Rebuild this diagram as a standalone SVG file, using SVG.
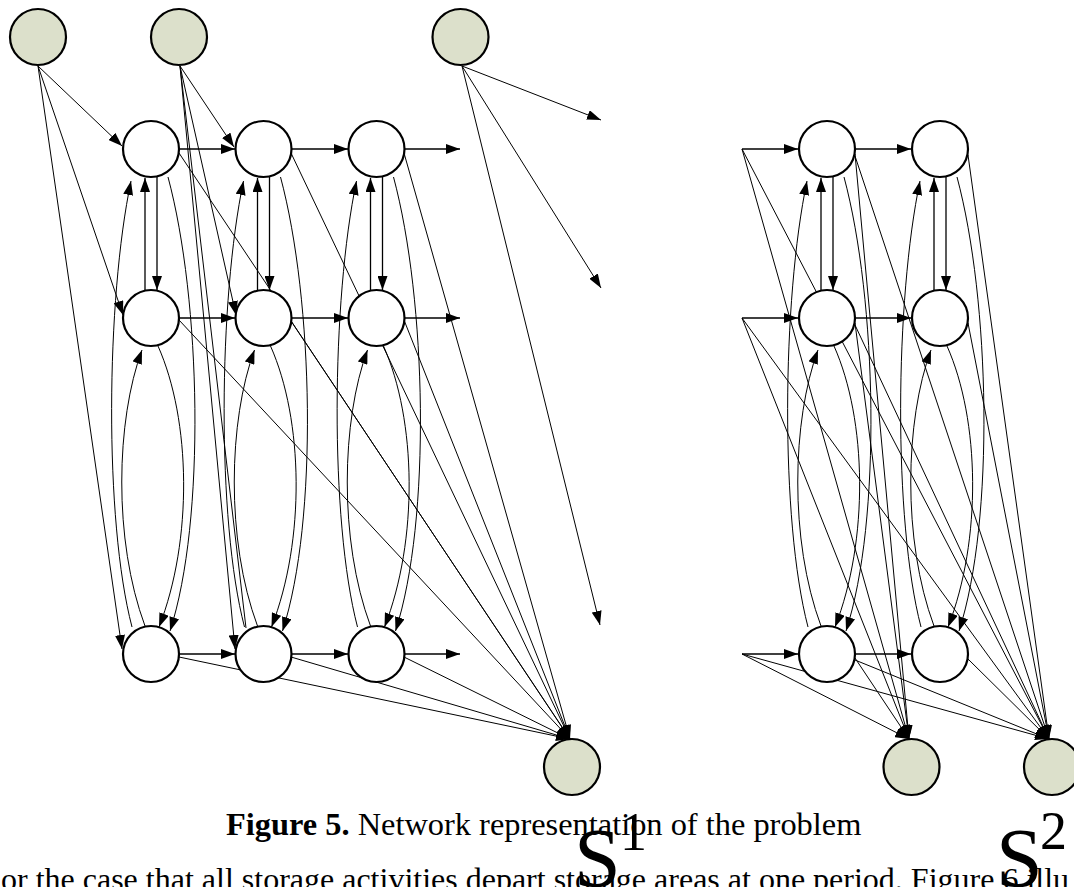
<svg xmlns="http://www.w3.org/2000/svg" width="1074" height="887" viewBox="0 0 1074 887">
<style>
.n{fill:#ffffff;stroke:#000;stroke-width:2.2}
.g{fill:#dce0cb;stroke:#000;stroke-width:2.2}
.e{fill:none;stroke:#000;stroke-width:1}
.a{fill:none;stroke:#000;stroke-width:1;marker-end:url(#ah)}
.s{fill:none;stroke:#000;stroke-width:1.3;marker-end:url(#ah)}
.t{font-family:"Liberation Serif","Times New Roman",serif;fill:#000}
</style>
<defs>
<marker id="ah" markerUnits="userSpaceOnUse" markerWidth="15" markerHeight="10" refX="14" refY="5" orient="auto">
<path d="M0,0 L14,5 L0,10 z" fill="#000"/>
</marker>
</defs>
<rect width="1074" height="887" fill="#fff"/>
<g id="connectors">
<path class="a" d="M38,66 L122,146"/>
<path class="a" d="M38,66 L123,315"/>
<path class="a" d="M38,66 L122,649"/>
<path class="a" d="M180,66 L234,147"/>
<path class="a" d="M180,66 L236,315"/>
<path class="a" d="M180,66 L235,649"/>
<path class="e" d="M180,66 L246,628"/>
<path class="a" d="M462,66 L601,120"/>
<path class="a" d="M462,66 L601,288"/>
<path class="a" d="M462,66 L600,625"/>
<path class="s" d="M179,149 L235,149"/>
<path class="s" d="M292,149 L348,149"/>
<path class="s" d="M405,149 L460,149"/>
<path class="s" d="M179,318 L235,318"/>
<path class="s" d="M292,318 L348,318"/>
<path class="s" d="M405,318 L460,318"/>
<path class="s" d="M179,654 L235,654"/>
<path class="s" d="M292,654 L348,654"/>
<path class="s" d="M405,654 L460,654"/>
<path class="s" d="M145,290 L145,178"/>
<path class="s" d="M157,177 L157,290"/>
<path class="a" d="M132,627 C104,520 106,300 131,181"/>
<path class="a" d="M145,626 C113,540 116,420 142,350"/>
<path class="a" d="M158,346 C191,420 193,540 159,627"/>
<path class="a" d="M168,177 C201,300 206,520 170,631"/>
<path class="s" d="M257.5,290 L257.5,178"/>
<path class="s" d="M269.5,177 L269.5,290"/>
<path class="a" d="M244.5,627 C216.5,520 218.5,300 243.5,181"/>
<path class="a" d="M257.5,626 C225.5,540 228.5,420 254.5,350"/>
<path class="a" d="M270.5,346 C303.5,420 305.5,540 271.5,627"/>
<path class="a" d="M280.5,177 C313.5,300 318.5,520 282.5,631"/>
<path class="s" d="M370.5,290 L370.5,178"/>
<path class="s" d="M382.5,177 L382.5,290"/>
<path class="a" d="M357.5,627 C329.5,520 331.5,300 356.5,181"/>
<path class="a" d="M370.5,626 C338.5,540 341.5,420 367.5,350"/>
<path class="a" d="M383.5,346 C416.5,420 418.5,540 384.5,627"/>
<path class="a" d="M393.5,177 C426.5,300 431.5,520 395.5,631"/>
<path class="a" d="M179,153 L570,739"/>
<path class="a" d="M291,153 L570,739"/>
<path class="a" d="M404,153 L570,739"/>
<path class="a" d="M179,320 L570,739"/>
<path class="a" d="M291,321 L570,739"/>
<path class="a" d="M404,320 L570,739"/>
<path class="a" d="M179,657 L570,739"/>
<path class="a" d="M291,657 L570,739"/>
<path class="a" d="M404,657 L570,739"/>
<path class="s" d="M742,149 L798,149"/>
<path class="s" d="M742,318 L798,318"/>
<path class="s" d="M742,654 L798,654"/>
<path class="a" d="M742,149 L909,739"/>
<path class="a" d="M742,149 L1049,739"/>
<path class="a" d="M742,318 L909,739"/>
<path class="a" d="M742,318 L1049,739"/>
<path class="a" d="M742,654 L909,739"/>
<path class="a" d="M742,654 L1049,739"/>
<path class="s" d="M855,149 L911,149"/>
<path class="s" d="M855,318 L911,318"/>
<path class="s" d="M855,654 L911,654"/>
<path class="s" d="M821,290 L821,178"/>
<path class="s" d="M833,177 L833,290"/>
<path class="a" d="M808,627 C780,520 782,300 807,181"/>
<path class="a" d="M821,626 C789,540 792,420 818,350"/>
<path class="a" d="M834,346 C867,420 869,540 835,627"/>
<path class="a" d="M844,177 C877,300 882,520 846,631"/>
<path class="s" d="M934,290 L934,178"/>
<path class="s" d="M946,177 L946,290"/>
<path class="a" d="M921,627 C893,520 895,300 920,181"/>
<path class="a" d="M934,626 C902,540 905,420 931,350"/>
<path class="a" d="M947,346 C980,420 982,540 948,627"/>
<path class="a" d="M957,177 C990,300 995,520 959,631"/>
<path class="a" d="M855,154 L909,739"/>
<path class="a" d="M855,156 L1049,739"/>
<path class="a" d="M855,323 L909,739"/>
<path class="a" d="M855,325 L1049,739"/>
<path class="a" d="M855,658 L909,739"/>
<path class="a" d="M855,660 L1049,739"/>
<path class="a" d="M968,155 L1049,739"/>
<path class="a" d="M968,323 L1049,739"/>
<path class="a" d="M968,659 L1049,739"/>
</g>
<g id="src1"><circle class="g" cx="38" cy="37" r="28"/></g>
<g id="src2"><circle class="g" cx="179" cy="37" r="28"/></g>
<g id="src3"><circle class="g" cx="460.5" cy="37" r="28"/></g>
<g id="n11"><circle class="n" cx="151" cy="149" r="28"/></g>
<g id="n12"><circle class="n" cx="263.5" cy="149" r="28"/></g>
<g id="n13"><circle class="n" cx="376.5" cy="149" r="28"/></g>
<g id="n21"><circle class="n" cx="151" cy="318" r="28"/></g>
<g id="n22"><circle class="n" cx="263.5" cy="318" r="28"/></g>
<g id="n23"><circle class="n" cx="376.5" cy="318" r="28"/></g>
<g id="n31"><circle class="n" cx="151" cy="654" r="28"/></g>
<g id="n32"><circle class="n" cx="263.5" cy="654" r="28"/></g>
<g id="n33"><circle class="n" cx="376.5" cy="654" r="28"/></g>
<g id="m11"><circle class="n" cx="827" cy="149" r="28"/></g>
<g id="m12"><circle class="n" cx="940" cy="149" r="28"/></g>
<g id="m21"><circle class="n" cx="827" cy="318" r="28"/></g>
<g id="m22"><circle class="n" cx="940" cy="318" r="28"/></g>
<g id="m31"><circle class="n" cx="827" cy="654" r="28"/></g>
<g id="m32"><circle class="n" cx="940" cy="654" r="28"/></g>
<g id="sinkS1"><circle class="g" cx="572" cy="767" r="28"/></g>
<g id="sinkA"><circle class="g" cx="911.5" cy="767" r="28"/></g>
<g id="sinkB"><circle class="g" cx="1052" cy="767" r="28"/></g>
<g id="caption">
<text class="t" x="226" y="835" font-size="32.4"><tspan font-weight="bold">Figure 5.</tspan> Network representation of the problem</text>
<text class="t" x="1" y="890" font-size="32">or the case that all storage activities depart storage areas at one period. Figure 6 illu</text>
</g>
<g id="labelS1"><text class="t" x="574" y="887" font-size="84">S</text><text class="t" x="620" y="850" font-size="54">1</text></g>
<g id="labelS2"><text class="t" x="996" y="887" font-size="84">S</text><text class="t" x="1040" y="849" font-size="54">2</text></g>
</svg>
